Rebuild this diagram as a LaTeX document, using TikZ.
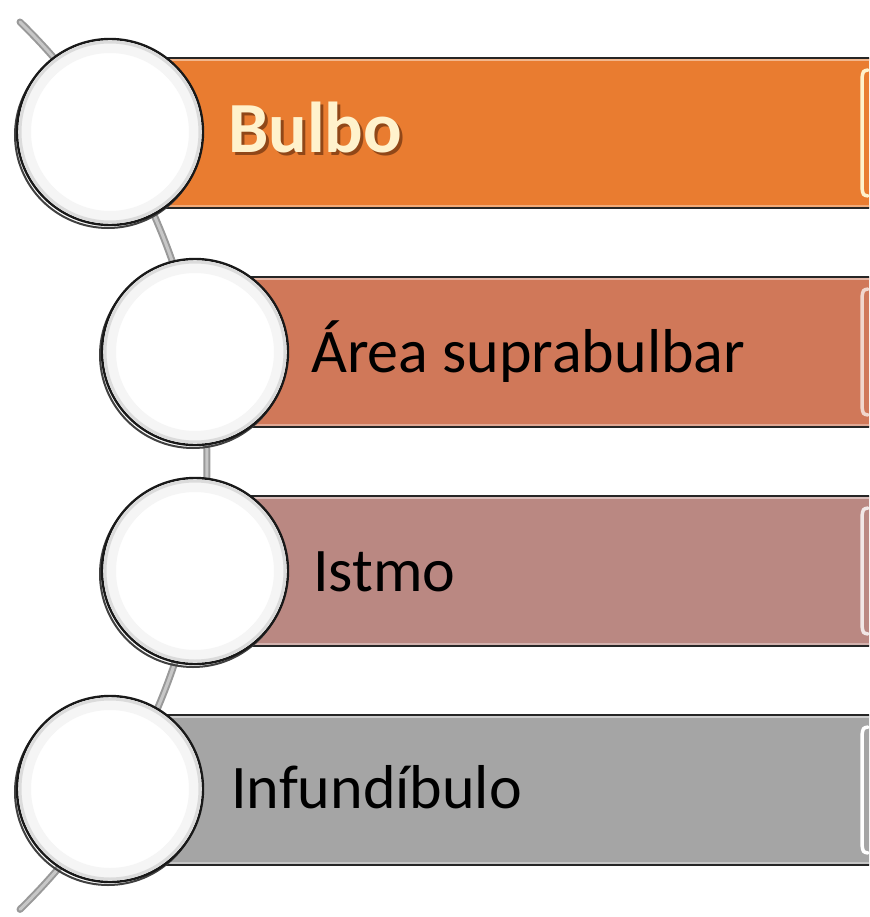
\documentclass[tikz,border=0pt]{standalone}
\usepackage{fontspec}
\setmainfont{Carlito}
\definecolor{barA}{HTML}{E97C30}
\definecolor{barB}{HTML}{D07859}
\definecolor{barC}{HTML}{BA8882}
\definecolor{barD}{HTML}{A5A5A5}
\definecolor{cream}{HTML}{FFF2CC}
\definecolor{titleshadow}{HTML}{7A3A12}
\tikzset{
  bar/.style={rectangle, draw=black!85, line width=1.8pt,
    minimum height=150pt, inner sep=0pt, anchor=west},
  ball/.style={circle, minimum size=186pt, inner sep=0pt, fill=white,
    draw=black!90, line width=2.4pt},
  ballshadow/.style={circle, minimum size=186pt, inner sep=0pt,
    draw=black!75, line width=2pt},
  itemtext/.style={anchor=base west, inner sep=0pt,
    font=\fontsize{62}{62}\selectfont, text=black},
  titletext/.style={anchor=base west, inner sep=0pt,
    font=\fontsize{72}{72}\selectfont\bfseries},
  spineout/.style={line width=7pt, color=black!40, line cap=round},
  spinein/.style={line width=3pt, color=black!22, line cap=round},
  glint/.style={line width=3.5pt, line cap=round},
}
\newcommand{\shadowed}[1]{%
  \rlap{\hspace{3pt}\raisebox{-3pt}{\textcolor{titleshadow!80!barA}{#1}}}#1}
\begin{document}
\begin{tikzpicture}[x=1pt, y=-1pt]
  \useasboundingbox (0,0) rectangle (869,917);
  \clip (0,0) rectangle (869,917);

  % curved spine running behind the circles
  \draw[spineout] (20,22) arc[start angle=-45.7, end angle=45.7, radius=620];
  \draw[spinein]  (20,22) arc[start angle=-45.7, end angle=45.7, radius=620];

  % coloured bars, each starting under its circle
  \node[bar, fill=barA, minimum width=780pt] (bar1) at (110,133) {};
  \node[bar, fill=barB, minimum width=700pt] (bar2) at (195,352) {};
  \node[bar, fill=barC, minimum width=700pt] (bar3) at (195,571) {};
  \node[bar, fill=barD, minimum width=780pt] (bar4) at (110,790) {};

  % bevel lines along the bar edges
  \foreach \b/\c in {bar1/barA, bar2/barB, bar3/barC, bar4/barD}{
    \draw[\c!55!white, line width=2pt]
      ([yshift=-3pt]\b.north west) -- ([yshift=-3pt]\b.north east);
    \draw[\c!65!white, line width=1.5pt]
      ([yshift=3pt]\b.south west) -- ([yshift=3pt]\b.south east);
  }

  % glints at the right end of each bar
  \draw[glint, color=cream]
    (868,70) .. controls (863,71) .. (862,78) -- (862,188) .. controls (863,195) .. (868,196);
  \draw[glint, color=barB!30!white]
    (868,289) .. controls (863,290) .. (862,297) -- (862,407) .. controls (863,414) .. (868,415);
  \draw[glint, color=barC!20!white]
    (868,508) .. controls (863,509) .. (862,516) -- (862,626) .. controls (863,633) .. (868,634);
  \draw[glint, color=white]
    (868,727) .. controls (863,728) .. (862,735) -- (862,845) .. controls (863,852) .. (868,853);

  % circles with their drop rings
  \node[ballshadow] at (108,135) {};
  \node[ballshadow] at (193,355) {};
  \node[ballshadow] at (193,574) {};
  \node[ballshadow] at (108,792) {};
  \node[ball] (c1) at (110,132) {};
  \node[ball] (c2) at (195,352) {};
  \node[ball] (c3) at (195,571) {};
  \node[ball] (c4) at (110,789) {};
  \foreach \c in {c1,c2,c3,c4}{
    \draw[black!4, line width=10pt] (\c) circle (84);
    \draw[black!14, line width=3pt] (\c) circle (90);
  }

  % labels
  \node[titletext, text=cream] (t1) at (228,153) {\shadowed{Bulbo}};
  \node[itemtext] (t2) at (311,372) {Área suprabulbar};
  \node[itemtext] (t3) at (313,591) {Istmo};
  \node[itemtext] (t4) at (231,808) {Infundíbulo};
\end{tikzpicture}
\end{document}
